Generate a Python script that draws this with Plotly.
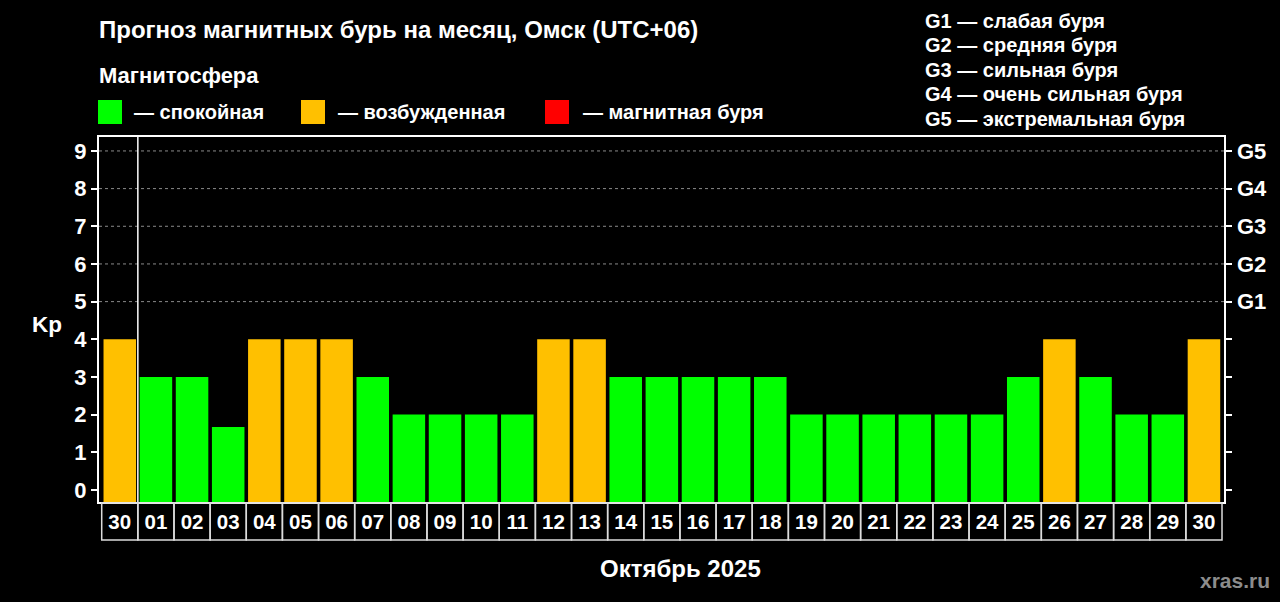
import plotly.graph_objects as go

# ---- data ----
day_labels = ["30", "01", "02", "03", "04", "05", "06", "07", "08", "09", "10",
              "11", "12", "13", "14", "15", "16", "17", "18", "19", "20", "21",
              "22", "23", "24", "25", "26", "27", "28", "29", "30"]
kp_values = [4, 3, 3, 1.67, 4, 4, 4, 3, 2, 2, 2,
             2, 4, 4, 3, 3, 3, 3, 3, 2, 2, 2,
             2, 2, 2, 3, 4, 3, 2, 2, 4]
kp_ticks = list(range(0, 10))
g_levels = [5, 6, 7, 8, 9]
g_labels = ["G1", "G2", "G3", "G4", "G5"]
g_legend = ["G1 — слабая буря", "G2 — средняя буря", "G3 — сильная буря",
            "G4 — очень сильная буря", "G5 — экстремальная буря"]
state_labels = ["— спокойная", "— возбужденная", "— магнитная буря"]
month_label = "Октябрь 2025"
title_text = "Прогноз магнитных бурь на месяц, Омск (UTC+06)"

# ---- style ----
GREEN = "#00FF00"
ORANGE = "#FFC000"
RED = "#FF0000"
FONT = "Liberation Sans"
Y_MIN, Y_MAX = -0.32, 9.37
X_MIN, X_MAX = -0.575, 30.555

W, H = 1280, 602
ML, MR, MT, MB = 99, 56, 137, 100
PW, PH = W - ML - MR, H - MT - MB


def px_x(px):
    return (px - ML) / PW


def px_y(py):
    return (H - MB - py) / PH


def color_for(v):
    if v >= 5:
        return RED
    if v >= 4:
        return ORANGE
    return GREEN


xs = list(range(len(day_labels)))
colors = [color_for(v) for v in kp_values]

fig = go.Figure()
fig.add_trace(go.Bar(
    x=xs, y=[v - Y_MIN for v in kp_values], base=Y_MIN,
    marker=dict(color=colors, line=dict(width=0)),
    hoverinfo="skip", showlegend=False,
))
# invisible trace for right axis
fig.add_trace(go.Scatter(x=[xs[0]], y=[0], yaxis="y2", mode="markers",
                         marker=dict(opacity=0), hoverinfo="skip", showlegend=False))

shapes = []
# dashed gridlines at G levels
for lv in g_levels:
    shapes.append(dict(type="line", xref="paper", yref="y", x0=0, x1=1, y0=lv, y1=lv,
                       line=dict(color="#8a8a8a", width=1, dash="3px,3px"), layer="below"))
# separator between previous month and current month
shapes.append(dict(type="line", xref="x", yref="paper", x0=xs[0] + 0.5, x1=xs[0] + 0.5,
                   y0=0, y1=1, line=dict(color="white", width=1.5)))
# label boxes
for i in xs:
    shapes.append(dict(type="rect", xref="x", yref="paper", x0=i - 0.5, x1=i + 0.5,
                       y0=px_y(540), y1=px_y(503),
                       line=dict(color="#dcdcdc", width=1.5)))
# state legend squares
for sx, col in [(98, GREEN), (301, ORANGE), (545, RED)]:
    shapes.append(dict(type="rect", xref="paper", yref="paper",
                       x0=px_x(sx), x1=px_x(sx + 24), y0=px_y(124), y1=px_y(100),
                       fillcolor=col, line=dict(width=0)))

annotations = []


def add_text(text, px, py, size, color="white", anchor="left"):
    annotations.append(dict(text=text, xref="paper", yref="paper",
                            x=px_x(px), y=px_y(py), xanchor=anchor, yanchor="middle",
                            showarrow=False,
                            font=dict(family=FONT, size=size, color=color, weight="bold")))


add_text(title_text, 97, 29, 24)
add_text("Магнитосфера", 97, 76, 22)
for txt, sx in zip(state_labels, [132, 336, 581]):
    add_text(txt, sx, 112, 20)
for k, txt in enumerate(g_legend):
    add_text(txt, 923, 21 + k * 24.4, 20)
add_text("Kp", 47, 324, 22.5, anchor="center")
add_text(month_label, 680, 568, 24, anchor="center")
add_text("xras.ru", 1235, 580, 21, color="#8c8c8c", anchor="center")

fig.update_layout(
    width=W, height=H,
    margin=dict(l=ML, r=MR, t=MT, b=MB, pad=0),
    paper_bgcolor="black", plot_bgcolor="black",
    bargap=0.1,
    showlegend=False,
    xaxis=dict(range=[X_MIN, X_MAX], tickvals=xs, ticktext=day_labels,
               showgrid=False, zeroline=False, showline=True, mirror=True,
               linecolor="white", linewidth=2, ticks="",
               ticklabelstandoff=0,
               tickfont=dict(family=FONT, size=20.5, color="white", weight="bold")),
    yaxis=dict(range=[Y_MIN, Y_MAX], tickvals=kp_ticks, showgrid=False, zeroline=False,
               showline=True, mirror="allticks", linecolor="white", linewidth=2,
               ticks="outside", ticklen=6, tickwidth=1.5, tickcolor="white",
               tickfont=dict(family=FONT, size=22, color="white", weight="bold")),
    yaxis2=dict(range=[Y_MIN, Y_MAX], overlaying="y", side="right",
                tickvals=g_levels, ticktext=g_labels, showgrid=False, zeroline=False,
                showline=False, ticks="", ticklabelstandoff=12,
                tickfont=dict(family=FONT, size=22, color="white", weight="bold")),
    shapes=shapes,
    annotations=annotations,
)

fig.write_html("out.html", config={"displayModeBar": False},
               post_script="document.body.style.margin='0';")
